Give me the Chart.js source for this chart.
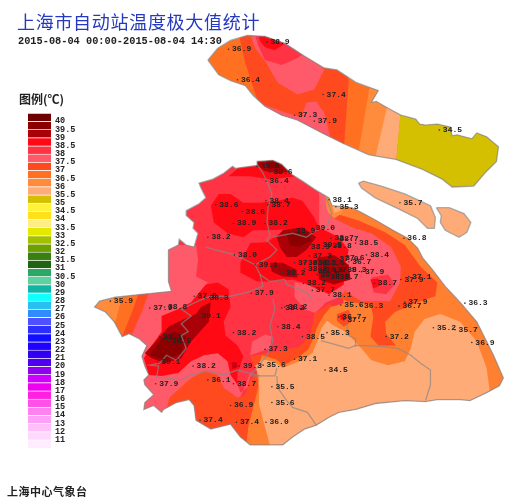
<!DOCTYPE html>
<html lang="zh">
<head>
<meta charset="UTF-8">
<title>上海市自动站温度极大值统计</title>
<style>
  body { margin: 0; background: #fff; }
  #page { position: relative; width: 530px; height: 500px; overflow: hidden; }
  #mapChart { position: absolute; left: 0; top: 0; }
  #legendChart { position: absolute; left: 28px; top: 104px; }
  .txt { position: absolute; white-space: pre; line-height: 1; }
  #title { left: 17px; top: 8px; font: 400 18px "Noto Sans CJK SC"; letter-spacing: .7px; color: #2438c0; }
  #period { left: 18px; top: 35px; font: 700 10.3px "Liberation Mono"; color: #222; }
  #legendTitle { left: 19px; top: 90px; font: 700 12px "Noto Sans CJK SC"; color: #222; }
  #source { left: 7px; top: 483px; font: 700 11px "Noto Sans CJK SC"; letter-spacing: .5px; color: #222; }
</style>
</head>
<body>
<div id="page">
  <canvas id="mapChart" width="530" height="500"></canvas>
  <canvas id="legendChart" width="70" height="353"></canvas>
  <div class="txt" id="title">上海市自动站温度极大值统计</div>
  <div class="txt" id="period">2015-08-04 00:00-2015-08-04 14:30</div>
  <div class="txt" id="legendTitle">图例(℃)</div>
  <div class="txt" id="source">上海中心气象台</div>
</div>
<script src="https://cdn.jsdelivr.net/npm/chart.js"></script>
<script>
// legend
const legendTicks = ['40','39.5','39','38.5','38','37.5','37','36.5','36','35.5','35','34.5','34','33.5','33','32.5','32','31.5','31','30.5','30','29','28','27','26','25','24','23','22','21','20','19','18','17','16','15','14','13','12','11'];
const legendColors = ['#6e0000','#8b0000','#aa0008','#ff0a14','#ff3344','#ff5a6a','#ff4a20','#ff7020','#ff8c3c','#ffab78','#d4c000','#fff23a','#ffe11a','#ffee88','#e5e800','#a3c000','#6ea000','#3a8010','#1f6410','#2aa866','#5fd0a0','#12b5a5','#10ffff','#28c0f0','#2f8cff','#5050ff','#2c30ff','#1010ff','#2000ff','#3000f0','#5000f0','#9000f0','#d000ff','#f000f0','#ff20e0','#ff50e8','#ff80f0','#ffa0f8','#ffc0fa','#ffd8fc','#ffecff'];

// stations
const stationX = [228,267,237,324,295,315,442,257,270,266,215,242,266,268,233,265,207,234,255,283,330,337,402,406,293,313,337,308,320,332,330,357,310,337,343,350,295,305,315,323,305,315,323,335,345,328,337,318,304,313,330,368,363,376,411,403,468,407,401,342,362,340,345,328,388,436,458,475,303,278,282,265,295,263,326,272,272,266,108,148,163,193,205,197,233,158,167,156,192,239,207,233,154,230,199,236,251,285];
const stationY = [46,39,77,92,113,119,128,165,171,180,204,211,200,204,223,223,237,255,265,273,199,206,202,238,231,228,239,247,245,238,246,243,256,259,258,262,263,263,263,263,269,271,270,270,270,277,277,275,284,291,296,255,272,284,277,280,304,303,307,306,307,318,321,334,338,329,331,344,338,328,309,351,361,367,372,389,405,425,302,309,308,297,299,317,334,338,342,364,368,368,382,386,386,408,423,425,294,308];
const stationTemp = ['36.9','38.9','36.4','37.4','37.3','37.9','34.5','39.5','38.6','36.4','38.6','38.6','38.4','38.7','38.9','38.2','38.2','38.0','39.1','38.2','38.1','35.3','35.7','36.8','38.9','39.0','38.7','38.9','39.5','38.7','38.8','38.5','37.3','37.0','37.6','36.7','37.9','38.0','38.1','37.6','38.2','38.4','38.5','37.9','38.3','38.6','38.7','38.9','38.2','37.7','38.1','38.4','37.9','38.7','37.1','37.9','36.3','37.9','36.7','35.6','36.3','36.7','37.7','35.3','37.2','35.2','35.7','36.9','38.5','38.4','38.2','37.3','37.1','35.6','34.5','35.5','35.6','36.0','35.9','37.9','38.8','37.8','38.3','39.1','38.2','38.1','38.5','39.1','38.2','39.3','36.1','38.7','37.9','36.9','37.4','37.4','37.9','38.2'];

// land outlines
const chongming = [[207,57],[217,45],[230,37],[247,32],[265,33],[285,40],[305,53],[325,65],[338,67],[358,80],[380,88],[373,100],[378,99],[390,106],[403,113],[418,117],[422,122],[428,123],[440,122],[453,125],[455,134],[460,133],[475,137],[480,131],[490,135],[502,145],[500,160],[488,172],[477,185],[455,186],[445,178],[425,168],[398,158],[375,154],[370,153],[345,142],[325,132],[298,118],[282,113],[265,104],[253,93],[245,83],[230,78],[218,72],[207,57]];
const mainland = [[273,159],[282,163],[292,173],[303,180],[315,188],[323,193],[330,197],[333,205],[353,207],[363,212],[378,220],[395,230],[410,238],[420,248],[425,258],[435,270],[448,287],[463,303],[480,323],[497,357],[507,380],[503,388],[490,395],[473,403],[463,402],[440,402],[428,404],[407,403],[377,406],[357,412],[340,415],[330,420],[317,428],[305,432],[293,440],[283,448],[250,448],[240,440],[230,427],[210,432],[195,423],[193,408],[188,402],[175,405],[162,412],[160,415],[152,408],[142,412],[143,405],[152,397],[143,387],[142,382],[147,377],[143,368],[140,358],[145,347],[137,340],[127,335],[120,338],[112,323],[103,313],[92,308],[97,302],[113,298],[140,295],[170,292],[167,282],[167,250],[177,245],[178,239],[185,245],[193,247],[197,233],[192,228],[193,222],[185,215],[185,210],[198,203],[205,197],[200,187],[198,182],[212,178],[223,172],[232,165],[235,167],[257,164],[257,160],[273,159]];
const changxing = [[360,182],[365,180],[383,185],[407,193],[433,205],[438,217],[437,228],[430,228],[420,218],[400,208],[377,197],[363,187],[360,182]];
const hengsha = [[439,207],[452,207],[467,213],[474,222],[470,232],[462,237],[448,230],[443,222],[444,215],[439,207]];

// Chongming temperature bands
const cmOrangeRed = [[237,25],[245,60],[258,100],[262,118],[345,148],[350,78],[345,55],[237,25]];
const cmPink = [[248,25],[255,45],[265,58],[278,80],[298,92],[315,87],[325,67],[300,40],[248,25]];
const cmRose = [[254,28],[258,42],[265,57],[282,62],[298,55],[305,50],[285,30],[254,28]];
const cmRed = [[258,28],[260,38],[265,44],[275,47],[284,41],[270,28],[258,28]];
const cmPinkLow = [[262,102],[285,110],[302,115],[307,100],[317,99],[325,110],[332,138],[280,122],[262,102]];
const cmLight = [[372,80],[360,150],[376,160],[392,100],[372,80]];
const cmPeach = [[390,100],[376,160],[398,162],[403,108],[390,100]];
const cmOlive = [[403,105],[398,162],[480,195],[510,150],[490,120],[403,105]];

// mainland temperature bands
const westPink = [[130,300],[165,290],[165,245],[195,245],[197,260],[195,277],[207,283],[195,297],[165,350],[190,358],[205,350],[217,350],[228,360],[235,380],[240,395],[247,390],[252,370],[240,400],[200,440],[130,430],[130,300]];
const southOrangeRed = [[168,400],[190,380],[203,373],[217,377],[223,390],[237,400],[245,397],[250,383],[257,375],[250,358],[283,352],[300,348],[311,335],[315,315],[330,305],[340,310],[340,470],[150,470],[168,400]];
const eastOrange = [[325,195],[345,200],[400,225],[430,260],[500,340],[520,395],[490,415],[245,460],[248,430],[253,410],[258,390],[257,372],[262,357],[276,361],[284,367],[299,359],[309,351],[314,340],[318,328],[325,316],[332,308],[345,304],[336,250],[325,195]];
const eastArc = [[333,212],[360,220],[387,232],[407,245],[423,267],[440,283],[438,297],[420,303],[397,313],[387,323],[388,335],[398,347],[380,347],[372,338],[375,318],[372,305],[350,303],[338,297],[335,250],[333,212]];
const eastPink = [[325,190],[333,217],[353,227],[373,233],[393,247],[403,267],[402,283],[392,302],[363,302],[347,292],[340,297],[327,303],[320,310],[320,190],[325,190]];
const centerPink = [[295,283],[340,285],[340,298],[327,303],[316,314],[305,310],[295,298],[295,283]];
const southPeach = [[273,460],[265,430],[259,407],[259,380],[255,368],[263,361],[275,364],[283,370],[300,363],[313,355],[318,343],[322,330],[328,322],[335,327],[347,333],[363,350],[373,362],[390,367],[407,363],[413,350],[417,333],[427,320],[443,315],[463,323],[480,343],[490,370],[493,392],[492,410],[300,470],[273,460]];
const tipOrange = [[326,195],[346,203],[343,213],[335,218],[328,210],[326,195]];
const tipPeach = [[333,202],[344,205],[340,211],[335,212],[333,202]];
const westLight = [[85,295],[122,290],[115,317],[110,330],[85,330],[85,295]];
const westOrange = [[122,290],[138,290],[130,313],[120,338],[105,340],[110,323],[115,317],[122,290]];
const westOrangeRed = [[138,290],[148,290],[140,313],[130,335],[133,342],[118,342],[120,335],[130,313],[138,290]];
const smallPink = [[250,357],[252,343],[265,336],[272,338],[270,350],[250,357]];
const eastRose = [[373,278],[390,275],[397,285],[388,295],[375,293],[373,278]];
const eastRed = [[372,280],[380,279],[382,286],[375,289],[372,280]];
const midPatch = [[338,315],[350,311],[354,322],[345,328],[338,322],[338,315]];
const midRed = [[341,316],[346,315],[347,321],[342,321],[341,316]];

// hot cores
const northRed = [[228,175],[240,165],[258,155],[285,155],[298,175],[270,178],[250,175],[228,175]];
const northDark = [[257,158],[275,155],[285,162],[292,170],[280,172],[265,170],[258,165],[257,158]];
const northCore = [[265,158],[275,158],[280,165],[270,168],[265,158]];
const nwRed = [[210,205],[218,193],[230,193],[243,202],[260,202],[277,200],[293,197],[303,200],[315,217],[320,228],[267,230],[253,230],[243,237],[227,233],[213,222],[210,205]];
const centerRed = [[240,263],[250,243],[267,242],[277,235],[293,225],[320,227],[340,237],[350,250],[345,270],[345,285],[330,295],[303,283],[293,280],[270,282],[257,282],[240,273],[240,263]];
const centerDark = [[277,237],[283,230],[303,227],[317,237],[307,250],[297,257],[287,257],[280,247],[277,237]];
const centerCore = [[287,232],[307,232],[312,240],[300,247],[290,245],[287,232]];
const cityDark = [[270,263],[283,263],[297,270],[298,278],[283,277],[272,272],[270,263]];
const eastDark = [[318,258],[335,255],[350,265],[352,280],[335,285],[320,280],[318,258]];
const swRed = [[195,297],[205,285],[217,283],[228,290],[230,308],[223,323],[225,337],[237,347],[243,358],[240,367],[237,375],[237,387],[230,377],[227,363],[217,355],[203,357],[190,363],[177,375],[160,378],[147,377],[142,360],[150,347],[160,333],[160,317],[177,310],[190,303],[195,297]];
const swDark = [[210,303],[208,323],[190,343],[180,360],[163,365],[150,360],[143,355],[155,342],[167,328],[183,320],[195,315],[200,308],[210,303]];
const swCore = [[185,338],[180,355],[163,362],[148,357],[160,340],[173,333],[185,338]];
const spot393 = [[231,364],[236,364],[237,369],[232,371],[231,364]];

// county borders
const borderNorth = [[257,163],[263,172],[268,183],[272,193],[268,207],[267,222],[270,235],[267,240],[277,250],[270,257],[255,265],[235,255],[215,250],[205,247]];
const borderCity = [[255,265],[260,275],[270,282],[285,280],[287,285],[307,293],[313,300]];
const borderRiver = [[273,300],[275,310],[270,327],[273,343],[267,357],[250,378],[275,378],[277,370]];
const borderSouth = [[277,378],[278,390],[287,403],[293,410],[308,415],[317,428]];
const borderEast = [[322,342],[350,350],[357,347],[383,348],[400,350],[413,357],[423,365],[433,372],[433,387],[428,403]];
const borderLoop = [[348,325],[350,337],[357,340],[357,348]];
const borderWest = [[197,302],[180,310],[190,317],[180,325],[187,333],[180,337],[185,350],[175,362],[165,357],[158,365],[148,367],[157,368],[155,379],[180,382],[190,377],[207,373],[223,377],[237,372],[260,378]];
const borderTop = [[197,302],[210,297],[230,297],[247,293],[263,287],[260,275]];
const borderCore = [[273,237],[293,233],[307,237],[317,230],[327,227],[333,213],[327,197]];

const landShapes = [chongming, mainland, changxing, hengsha];

const bandLayers = [
  [chongming, '#ff7020'], [cmOrangeRed, '#ff4a20'], [cmPink, '#ff5a6a'], [cmRose, '#ff3344'], [cmRed, '#ff0a14'],
  [cmPinkLow, '#ff5a6a'], [cmLight, '#ff8c3c'], [cmPeach, '#ffab78'], [cmOlive, '#d4c000'],
  [changxing, '#ffab78'], [hengsha, '#ffab78'],
  [mainland, '#ff3344'], [westPink, '#ff5a6a'], [southOrangeRed, '#ff4a20'], [eastOrange, '#ff8030'],
  [eastArc, '#ff4a20'], [eastPink, '#ff5a6a'], [centerPink, '#ff5a6a'], [southPeach, '#ffab78'], [tipOrange, '#ff8c3c'], [tipPeach, '#ffab78'],
  [westOrangeRed, '#ff4a20'], [westOrange, '#ff7020'], [westLight, '#ff8c3c'], [smallPink, '#ff5a6a'],
  [eastRose, '#ff3344'], [eastRed, '#ff0a14'], [midPatch, '#ff4a20'], [midRed, '#ff0a14'],
  [northRed, '#ff0a14'], [northDark, '#aa0008'], [northCore, '#8b0000'], [nwRed, '#ff0a14'], [centerRed, '#ff0a14'],
  [centerDark, '#aa0008'], [centerCore, '#8b0000'], [cityDark, '#aa0008'], [eastDark, '#aa0008'],
  [swRed, '#ff0a14'], [swDark, '#aa0008'], [swCore, '#8b0000'], [spot393, '#cc0010']
];
const borderLines = [borderNorth, borderCity, borderRiver, borderSouth, borderEast, borderLoop, borderWest, borderTop, borderCore];

function toPoints(path) {
  return path.map(p => ({ x: p[0], y: p[1] }));
}

// paints come first, lines and stations after
const mapDatasets = [];
bandLayers.forEach((layer, i) => {
  mapDatasets.push({
    data: toPoints(layer[0]), showLine: true, fill: 'shape', tension: 0,
    backgroundColor: layer[1], borderColor: layer[1], borderWidth: 0, pointRadius: 0,
    lastBand: i === bandLayers.length - 1
  });
});
borderLines.concat(landShapes).forEach(path => {
  mapDatasets.push({
    data: toPoints(path), showLine: true, fill: false, tension: 0,
    borderColor: 'rgba(135,135,135,0.7)', borderWidth: 1.3, pointRadius: 0
  });
});
mapDatasets.push({
  data: stationX.map((x, i) => ({ x: x, y: stationY[i] })),
  showLine: false, pointRadius: 0.8, pointBackgroundColor: '#333', pointBorderWidth: 0, stationLayer: true
});
mapDatasets.forEach((ds, i) => { ds.order = mapDatasets.length - i; });

// keeps the bands inside the coast line
const landClip = {
  id: 'landClip',
  beforeDatasetsDraw(chart) {
    const ctx = chart.ctx, sx = chart.scales.x, sy = chart.scales.y;
    ctx.save();
    ctx.beginPath();
    landShapes.forEach(path => {
      path.forEach((p, i) => {
        const px = sx.getPixelForValue(p[0]), py = sy.getPixelForValue(p[1]);
        if (i === 0) ctx.moveTo(px, py); else ctx.lineTo(px, py);
      });
      ctx.closePath();
    });
    ctx.clip();
  },
  afterDatasetDraw(chart, args) {
    if (chart.data.datasets[args.index].lastBand) chart.ctx.restore();
  }
};

const stationLabels = {
  id: 'stationLabels',
  afterDatasetsDraw(chart) {
    const ctx = chart.ctx;
    const idx = chart.data.datasets.findIndex(ds => ds.stationLayer);
    const pts = chart.getDatasetMeta(idx).data;
    ctx.save();
    ctx.font = '700 8px "Liberation Mono"';
    ctx.fillStyle = '#222';
    ctx.textBaseline = 'middle';
    pts.forEach((pt, i) => ctx.fillText(stationTemp[i], pt.x + 3.5, pt.y));
    ctx.restore();
  }
};

new Chart(document.getElementById('mapChart'), {
  type: 'scatter',
  data: { datasets: mapDatasets },
  options: {
    responsive: false, animation: false, events: [],
    layout: { padding: 0 },
    scales: {
      x: { type: 'linear', min: 0, max: 530, display: false },
      y: { type: 'linear', min: 0, max: 500, reverse: true, display: false }
    },
    plugins: { legend: { display: false }, tooltip: { enabled: false } }
  },
  plugins: [landClip, stationLabels]
});

new Chart(document.getElementById('legendChart'), {
  type: 'bar',
  data: {
    labels: [''],
    datasets: legendColors.slice().reverse().map(c => ({
      data: [1], backgroundColor: c, borderColor: 'rgba(255,255,255,0.3)',
      borderWidth: { top: 1 }, categoryPercentage: 1, barPercentage: 1
    }))
  },
  options: {
    responsive: false, animation: false, events: [],
    layout: { padding: 0 },
    scales: {
      x: { stacked: true, display: false },
      y: {
        stacked: true, position: 'right', min: 0, max: 41,
        afterFit(scale) { scale.width = 47; },
        grid: { display: false, drawTicks: false }, border: { display: false },
        ticks: {
          stepSize: 1, autoSkip: false, padding: 4, color: '#222',
          font: { family: 'Liberation Mono', size: 8.5, weight: '700' },
          callback: v => legendTicks[40 - v]
        }
      }
    },
    plugins: { legend: { display: false }, tooltip: { enabled: false } }
  }
});
</script>
</body>
</html>
